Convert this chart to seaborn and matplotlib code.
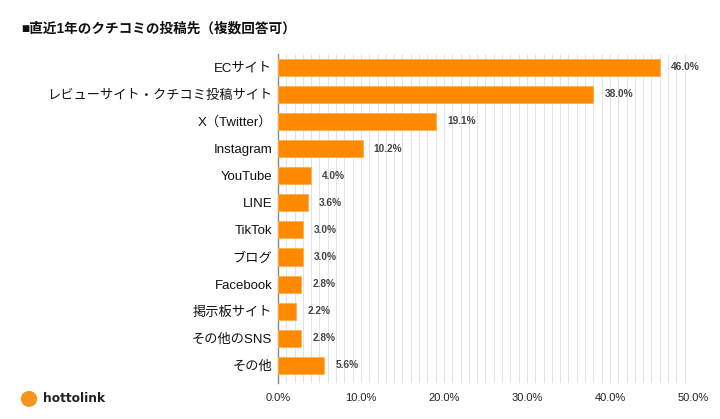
import matplotlib
matplotlib.use('Agg')
import matplotlib.pyplot as plt
import matplotlib.patches as mpatches
from matplotlib.ticker import MultipleLocator, FuncFormatter
import seaborn as sns
import pandas as pd

# データ
categories = ['ECサイト', 'レビューサイト・クチコミ投稿サイト', 'X（Twitter）', 'Instagram',
              'YouTube', 'LINE', 'TikTok', 'ブログ', 'Facebook', '掲示板サイト',
              'その他のSNS', 'その他']
values = [46.0, 38.0, 19.1, 10.2, 4.0, 3.6, 3.0, 3.0, 2.8, 2.2, 2.8, 5.6]

df = pd.DataFrame({'cat': categories, 'val': values})

sns.set_style('white')
plt.rcParams['font.family'] = ['Liberation Sans', 'Noto Sans CJK JP']

fig = plt.figure(figsize=(7.2, 4.19), dpi=100)
ax = fig.add_axes([0.386, 0.0859, 0.5764, 0.786])

sns.barplot(data=df, x='val', y='cat', color='#FF8A00', saturation=1,
            width=0.63, edgecolor='#FFB04D', linewidth=0.6, ax=ax, zorder=3)

ax.set_xlim(0, 50)
ax.set_ylim(11.65, -0.5)
ax.xaxis.set_major_locator(MultipleLocator(10))
ax.xaxis.set_minor_locator(MultipleLocator(1))
ax.xaxis.set_major_formatter(FuncFormatter(lambda v, p: f'{v:.1f}%'))
ax.grid(axis='x', which='both', color='#E3E3E3', linewidth=0.7, zorder=0)
ax.set_axisbelow(True)
ax.set_xlabel('')
ax.set_ylabel('')
for s in ['top', 'right', 'bottom']:
    ax.spines[s].set_visible(False)
ax.spines['left'].set_color('#888888')
ax.spines['left'].set_linewidth(1)
ax.tick_params(axis='x', which='both', length=0, labelsize=8, colors='#222222', pad=7)
ax.tick_params(axis='y', length=0, labelsize=9.5, colors='#111111', pad=4)

for i, v in enumerate(values):
    ax.text(v + 1.35, i, f'{v:.1f}%', va='center', ha='left',
            fontsize=7.3, fontweight='bold', color='#444444')

fig.text(0.029, 0.931, '■直近1年のクチコミの投稿先（複数回答可）', fontsize=9.8,
         fontweight='bold', color='#111111', ha='left', va='center')

# ロゴ
fig.patches.append(mpatches.Ellipse((0.0403, 0.048), 0.0208, 0.0345,
                                    transform=fig.transFigure, color='#F7941D'))
fig.text(0.06, 0.048, 'hottolink', fontsize=8.8, fontweight='bold',
         color='#222222', ha='left', va='center', family='DejaVu Sans')

fig.savefig('out.png', dpi=100)
